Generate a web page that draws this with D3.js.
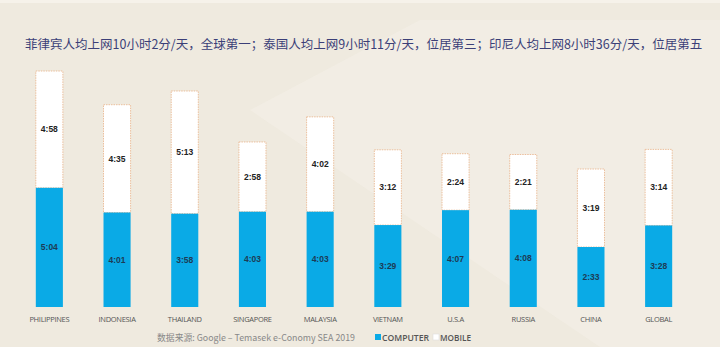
<!DOCTYPE html>
<html><head><meta charset="utf-8">
<script src="https://cdn.jsdelivr.net/npm/d3@7"></script>
<style>html,body{margin:0;padding:0;background:#efeadf;}svg{display:block;}</style>
</head><body>
<script>
const title = "菲律宾人均上网10小时2分/天，全球第一；泰国人均上网9小时11分/天，位居第三；印尼人均上网8小时36分/天，位居第五";
const categories = ["PHILIPPINES","INDONESIA","THAILAND","SINGAPORE","MALAYSIA","VIETNAM","U.S.A","RUSSIA","CHINA","GLOBAL"];
const computer = ["5:04","4:01","3:58","4:03","4:03","3:29","4:07","4:08","2:33","3:28"];
const mobile   = ["4:58","4:35","5:13","2:58","4:02","3:12","2:24","2:21","3:19","3:14"];
const source = "数据来源: Google – Temasek e-Conomy SEA 2019";
const legendLabels = ["COMPUTER","MOBILE"];

const toMin = s => { const [h,m] = s.split(":").map(Number); return h*60+m; };
const data = categories.map((c,i)=>({c, comp: toMin(computer[i]), mob: toMin(mobile[i]), cl: computer[i], ml: mobile[i]}));

const W = 720, H = 347;
const svg = d3.select("body").append("svg").attr("width",W).attr("height",H);
svg.append("rect").attr("width",W).attr("height",H).attr("fill","#efeadf");
svg.append("path").attr("d","M250,110 L420,20 L720,20 L720,347 L600,347 Z").attr("fill","#f2eee5").attr("opacity",0.8);
svg.append("path").attr("d","M0,0 L720,0 L720,3 L0,3 Z").attr("fill","#f6f2ea");

const x = d3.scaleBand().domain(categories).range([15.5,692.5]).paddingInner(0.6).paddingOuter(0.3);
const y = d3.scaleLinear().domain([0,602]).range([307,71]);

// title (font sized so natural width fits inside the page)
const t = svg.append("text").attr("x",25).attr("y",49).text(title)
  .attr("font-family","'Noto Sans CJK SC', sans-serif").attr("font-size",12.5)
  .attr("fill","#3b3f78");
const natural = t.node().getComputedTextLength();
if (natural > 682) t.attr("font-size", 12.5*682/natural);

const g = svg.append("g");
const bw = x.bandwidth();
g.selectAll("rect.mob").data(data).join("rect").attr("class","mob")
  .attr("x",d=>x(d.c)).attr("width",bw)
  .attr("y",d=>y(d.comp+d.mob)).attr("height",d=>y(d.comp)-y(d.comp+d.mob))
  .attr("fill","#ffffff").attr("stroke","#ebbf9c").attr("stroke-width",1).attr("stroke-dasharray","1.5,1");
g.selectAll("rect.comp").data(data).join("rect").attr("class","comp")
  .attr("x",d=>x(d.c)).attr("width",bw)
  .attr("y",d=>y(d.comp)).attr("height",d=>y(0)-y(d.comp))
  .attr("fill","#0aaae6");

const lblFont = "'Liberation Sans', Arial, sans-serif";
g.selectAll("text.ml").data(data).join("text").attr("class","ml")
  .attr("x",d=>x(d.c)+bw/2).attr("y",d=>(y(d.comp)+y(d.comp+d.mob))/2+3)
  .attr("text-anchor","middle").attr("font-family",lblFont).attr("font-size",8.5).attr("font-weight","bold")
  .attr("fill","#222").text(d=>d.ml);
g.selectAll("text.cl").data(data).join("text").attr("class","cl")
  .attr("x",d=>x(d.c)+bw/2).attr("y",d=>(y(d.comp)+y(0))/2+3)
  .attr("text-anchor","middle").attr("font-family",lblFont).attr("font-size",8.5).attr("font-weight","bold")
  .attr("fill","#1d3b55").text(d=>d.cl);

// x axis labels
const xAxis = d3.axisBottom(x).tickSize(0).tickPadding(10);
const ax = svg.append("g").attr("transform","translate(0,307)").call(xAxis);
ax.select(".domain").remove();
ax.selectAll("text").attr("font-family","'Open Sans', sans-serif").attr("font-size",7.5)
  .attr("fill","#555").style("letter-spacing","-0.3px");

// source
svg.append("text").attr("x",157).attr("y",341).text(source)
  .attr("font-family","'Noto Sans CJK SC', 'Open Sans', sans-serif").attr("font-size",9)
  .attr("fill","#888").attr("textLength",198).attr("lengthAdjust","spacingAndGlyphs");

// legend
svg.append("rect").attr("x",375).attr("y",334).attr("width",6).attr("height",6).attr("fill","#0aaae6");
svg.append("text").attr("x",382).attr("y",341).text(legendLabels[0])
  .attr("font-family","'Open Sans', sans-serif").attr("font-size",9).attr("font-weight","600")
  .attr("fill","#555").attr("textLength",47).attr("lengthAdjust","spacingAndGlyphs");
svg.append("rect").attr("x",433).attr("y",334).attr("width",6).attr("height",6).attr("fill","#fff").attr("stroke","#ddd").attr("stroke-width",0.6);
svg.append("text").attr("x",440).attr("y",341).text(legendLabels[1])
  .attr("font-family","'Open Sans', sans-serif").attr("font-size",9).attr("font-weight","600")
  .attr("fill","#555").attr("textLength",31).attr("lengthAdjust","spacingAndGlyphs");
</script>
</body></html>
